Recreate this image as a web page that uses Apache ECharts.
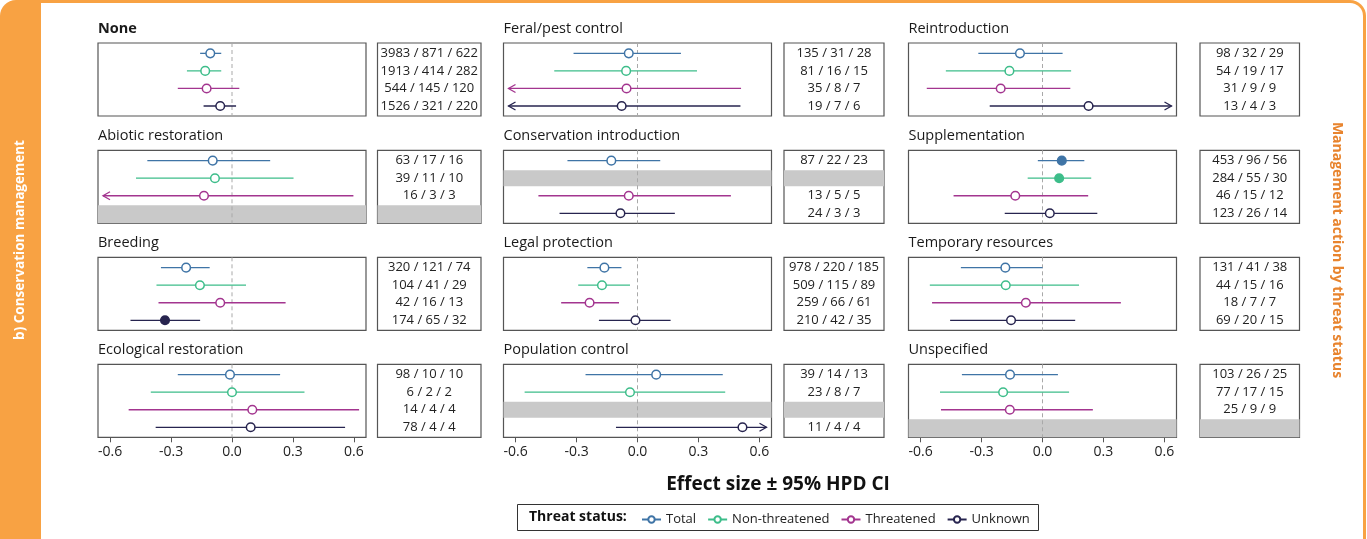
<!DOCTYPE html>
<html><head><meta charset="utf-8">
<script src="https://cdn.jsdelivr.net/npm/echarts@6/dist/echarts.min.js"></script>
<style>html,body{margin:0;padding:0;background:#fff}#chart{width:1367px;height:539px}</style>
</head><body><div id="chart"></div>
<script>
// ---------- data ----------
const panelNames = ['None','Feral/pest control','Reintroduction','Abiotic restoration','Conservation introduction','Supplementation','Breeding','Legal protection','Temporary resources','Ecological restoration','Population control','Unspecified'];
const statusNames = ['Total','Non-threatened','Threatened','Unknown'];
const tickValues = [-0.6,-0.3,0,0.3,0.6];

// rows = Total, Non-threatened, Threatened, Unknown : [estimate, lower, upper, filled]; null = no data
const ciNone      = [[-0.107,-0.157,-0.053,0],[-0.132,-0.222,-0.053,0],[-0.125,-0.267,0.036,0],[-0.058,-0.140,0.020,0]];
const ciFeral     = [[-0.043,-0.315,0.214,0],[-0.056,-0.410,0.293,0],[-0.054,-0.800,0.510,0],[-0.078,-0.800,0.507,0]];
const ciReintro   = [[-0.111,-0.316,0.099,0],[-0.163,-0.476,0.141,0],[-0.206,-0.570,0.137,0],[0.227,-0.260,0.800,0]];
const ciAbiotic   = [[-0.095,-0.417,0.188,0],[-0.084,-0.473,0.303,0],[-0.138,-0.800,0.598,0],null];
const ciConsIntro = [[-0.129,-0.345,0.112,0],null,[-0.043,-0.488,0.460,0],[-0.084,-0.384,0.184,0]];
const ciSupp      = [[0.095,-0.023,0.206,1],[0.082,-0.073,0.240,1],[-0.134,-0.438,0.225,0],[0.036,-0.186,0.270,0]];
const ciBreeding  = [[-0.226,-0.350,-0.110,0],[-0.158,-0.372,0.069,0],[-0.058,-0.362,0.264,0],[-0.330,-0.500,-0.157,1]];
const ciLegal     = [[-0.163,-0.247,-0.079,0],[-0.175,-0.292,-0.037,0],[-0.236,-0.376,-0.091,0],[-0.010,-0.190,0.163,0]];
const ciTemp      = [[-0.183,-0.402,0.000,0],[-0.181,-0.555,0.180,0],[-0.082,-0.544,0.386,0],[-0.155,-0.455,0.161,0]];
const ciEco       = [[-0.010,-0.267,0.237,0],[0.000,-0.400,0.357,0],[0.100,-0.509,0.626,0],[0.092,-0.376,0.557,0]];
const ciPop       = [[0.092,-0.256,0.420,0],[-0.037,-0.556,0.432,0],null,[0.517,-0.106,0.800,0]];
const ciUnspec    = [[-0.160,-0.397,0.076,0],[-0.194,-0.505,0.131,0],[-0.161,-0.500,0.248,0],null];

const nNone      = ['3983 / 871 / 622','1913 / 414 / 282','544 / 145 / 120','1526 / 321 / 220'];
const nFeral     = ['135 / 31 / 28','81 / 16 / 15','35 / 8 / 7','19 / 7 / 6'];
const nReintro   = ['98 / 32 / 29','54 / 19 / 17','31 / 9 / 9','13 / 4 / 3'];
const nAbiotic   = ['63 / 17 / 16','39 / 11 / 10','16 / 3 / 3',null];
const nConsIntro = ['87 / 22 / 23',null,'13 / 5 / 5','24 / 3 / 3'];
const nSupp      = ['453 / 96 / 56','284 / 55 / 30','46 / 15 / 12','123 / 26 / 14'];
const nBreeding  = ['320 / 121 / 74','104 / 41 / 29','42 / 16 / 13','174 / 65 / 32'];
const nLegal     = ['978 / 220 / 185','509 / 115 / 89','259 / 66 / 61','210 / 42 / 35'];
const nTemp      = ['131 / 41 / 38','44 / 15 / 16','18 / 7 / 7','69 / 20 / 15'];
const nEco       = ['98 / 10 / 10','6 / 2 / 2','14 / 4 / 4','78 / 4 / 4'];
const nPop       = ['39 / 14 / 13','23 / 8 / 7',null,'11 / 4 / 4'];
const nUnspec    = ['103 / 26 / 25','77 / 17 / 15','25 / 9 / 9',null];

// ---------- style / layout ----------
const statusColors = ['#3f74a6','#3dbd8a','#a3358f','#27244f'];
const ORANGE = '#f8a243', ORANGE_TXT = '#e8842e';
const FONT = '"Open Sans", "Noto Sans", sans-serif';
const XMIN = -0.66, XMAX = 0.66, YMIN = 0.41, YMAX = 4.57;
const colLeft = [98, 503.5, 908.5], plotW = 268;
const labLeft = [377.5, 784, 1200], labW = [103.5, 100, 99.5];
const rowTop = [43, 150.3, 257.3, 364.3], boxH = 73;

const panelCI = [ciNone,ciFeral,ciReintro,ciAbiotic,ciConsIntro,ciSupp,ciBreeding,ciLegal,ciTemp,ciEco,ciPop,ciUnspec];
const panelN  = [nNone,nFeral,nReintro,nAbiotic,nConsIntro,nSupp,nBreeding,nLegal,nTemp,nEco,nPop,nUnspec];

const grids = [], xAxes = [], yAxes = [], series = [], graphics = [];

function bandRender(params, api) {
  const cs = params.coordSys;
  const row = api.value(1);
  const yA = api.coord([0, row - 0.46])[1];
  let yB = api.coord([0, row + 0.46])[1];
  if (row === 4) yB = cs.y + cs.height;
  return { type: 'rect', shape: { x: cs.x, y: yA, width: cs.width, height: yB - yA }, style: { fill: '#c9c9c9' } };
}
function zeroRender(params, api) {
  const cs = params.coordSys;
  const x = api.coord([api.value(0), YMIN])[0];
  return { type: 'line', shape: { x1: x, y1: cs.y, x2: x, y2: cs.y + cs.height }, style: { stroke: '#a9a9a9', lineWidth: 1, lineDash: [4, 3] } };
}
function ciRender(params, api) {
  const cs = params.coordSys;
  const row = api.value(0), est = api.value(1), lo = api.value(2), hi = api.value(3), filled = api.value(4), s = api.value(5);
  const color = statusColors[s];
  const y = api.coord([0, row])[1];
  const inset = 5;
  const x1 = lo < XMIN ? cs.x + inset : api.coord([lo, row])[0];
  const x2 = hi > XMAX ? cs.x + cs.width - inset : api.coord([hi, row])[0];
  const ch = [{ type: 'line', shape: { x1: x1, y1: y, x2: x2, y2: y }, style: { stroke: color, lineWidth: 1.3 } }];
  if (lo < XMIN) ch.push({ type: 'polyline', shape: { points: [[x1 + 7, y - 4], [x1, y], [x1 + 7, y + 4]] }, style: { stroke: color, fill: null, lineWidth: 1.3 } });
  if (hi > XMAX) ch.push({ type: 'polyline', shape: { points: [[x2 - 7, y - 4], [x2, y], [x2 - 7, y + 4]] }, style: { stroke: color, fill: null, lineWidth: 1.3 } });
  const cx = api.coord([est, row])[0];
  ch.push({ type: 'circle', shape: { cx: cx, cy: y, r: 4.3 }, style: { fill: filled ? color : '#fff', stroke: color, lineWidth: 1.5 } });
  return { type: 'group', children: ch };
}

panelNames.forEach(function (name, p) {
  const r = Math.floor(p / 3), c = p % 3;
  const gi = grids.length;
  grids.push({ left: colLeft[c], top: rowTop[r], width: plotW, height: boxH, show: true, borderColor: '#555', borderWidth: 1.2, backgroundColor: '#fff', containLabel: false, outerBoundsMode: 'none' });
  grids.push({ left: labLeft[c], top: rowTop[r], width: labW[c], height: boxH, show: true, borderColor: '#555', borderWidth: 1.2, backgroundColor: '#fff', containLabel: false, outerBoundsMode: 'none' });
  const bottom = r === 3;
  xAxes.push({ type: 'value', gridIndex: gi, min: XMIN, max: XMAX, splitLine: { show: false }, axisLine: { show: false },
    axisTick: { show: bottom, customValues: tickValues, length: 5, lineStyle: { color: '#555', width: 1 } },
    axisLabel: { show: bottom, customValues: tickValues, formatter: function (v) { return v.toFixed(1); }, fontFamily: FONT, fontSize: 14, color: '#222', margin: 8 } });
  xAxes.push({ type: 'value', gridIndex: gi + 1, min: 0, max: 1, show: false });
  yAxes.push({ type: 'value', gridIndex: gi, min: YMIN, max: YMAX, inverse: true, show: false });
  yAxes.push({ type: 'value', gridIndex: gi + 1, min: YMIN, max: YMAX, inverse: true, show: false });

  const ci = panelCI[p], ns = panelN[p];
  const missing = [];
  ci.forEach(function (d, i) { if (!d) missing.push([0, i + 1]); });
  series.push({ type: 'custom', name: 'band' + p, xAxisIndex: gi, yAxisIndex: gi, data: missing, renderItem: bandRender, z: 1, silent: true, encode: { x: 0, y: 1 } });
  series.push({ type: 'custom', name: 'bandN' + p, xAxisIndex: gi + 1, yAxisIndex: gi + 1, data: missing, renderItem: bandRender, z: 1, silent: true, encode: { x: 0, y: 1 } });
  series.push({ type: 'custom', name: 'zero' + p, xAxisIndex: gi, yAxisIndex: gi, data: [[0, 1]], renderItem: zeroRender, z: 2, silent: true, encode: { x: 0, y: 1 } });
  const ciData = [];
  ci.forEach(function (d, i) { if (d) ciData.push([i + 1, d[0], d[1], d[2], d[3], i]); });
  series.push({ type: 'custom', name: 'ci' + p, xAxisIndex: gi, yAxisIndex: gi, data: ciData, renderItem: ciRender, z: 3, silent: true, encode: { x: [1, 2, 3], y: 0 } });
  const nData = [], nText = [];
  ns.forEach(function (t, i) { if (t) { nData.push([0.5, i + 1]); nText.push(t); } });
  series.push({ type: 'custom', name: 'n' + p, xAxisIndex: gi + 1, yAxisIndex: gi + 1, data: nData, z: 3, silent: true, encode: { x: 0, y: 1 },
    renderItem: function (params, api) {
      const pt = api.coord([api.value(0), api.value(1)]);
      return { type: 'text', x: pt[0], y: pt[1], style: { text: nText[params.dataIndex], align: 'center', verticalAlign: 'middle', font: '13px ' + FONT, fill: '#222' } };
    } });

  graphics.push({ type: 'text', x: colLeft[c], y: rowTop[r] - 14.5, style: { text: name, font: (p === 0 ? 'bold ' : '') + '14.5px ' + FONT, fill: '#1a1a1a', verticalAlign: 'middle' } });
});

// legend series (no data)
statusNames.forEach(function (s, i) {
  series.push({ type: 'line', name: s, xAxisIndex: 0, yAxisIndex: 0, data: [], symbol: 'emptyCircle', color: statusColors[i], lineStyle: { color: statusColors[i], width: 1.3 } });
});

// frame / decorations
graphics.unshift(
  { type: 'rect', z: -10, shape: { x: 0, y: 0, width: 1366, height: 600, r: 16 }, style: { fill: ORANGE } },
  { type: 'rect', z: -9, shape: { x: 41, y: 3, width: 1322, height: 600, r: [0, 13, 0, 0] }, style: { fill: '#fff' } },
  { type: 'text', x: 20, y: 240, rotation: Math.PI / 2, style: { text: 'b) Conservation management', font: 'bold 13.5px ' + FONT, fill: '#fff', align: 'center', verticalAlign: 'middle' } },
  { type: 'text', x: 1337, y: 250, rotation: -Math.PI / 2, style: { text: 'Management action by threat status', font: 'bold 14px ' + FONT, fill: ORANGE_TXT, align: 'center', verticalAlign: 'middle' } },
  { type: 'text', x: 778, y: 485, style: { text: 'Effect size \u00b1 95% HPD CI', font: 'bold 19px ' + FONT, fill: '#111', align: 'center', verticalAlign: 'middle' } },
  { type: 'rect', shape: { x: 517.5, y: 504.5, width: 521, height: 26 }, style: { fill: '#fff', stroke: '#333', lineWidth: 1 } },
  { type: 'text', x: 529, y: 517.5, style: { text: 'Threat status:', font: 'bold 14px ' + FONT, fill: '#111', verticalAlign: 'middle' } }
);

const chart = echarts.init(document.getElementById('chart'), null, { renderer: 'canvas' });
chart.setOption({
  animation: false,
  backgroundColor: '#fff',
  grid: grids, xAxis: xAxes, yAxis: yAxes, series: series,
  legend: { data: statusNames, left: 636, top: 508, itemWidth: 19, itemHeight: 8, itemGap: 11, selectedMode: false, z: 10,
    textStyle: { fontFamily: FONT, fontSize: 13, color: '#222' } },
  graphic: graphics
});
</script></body></html>
